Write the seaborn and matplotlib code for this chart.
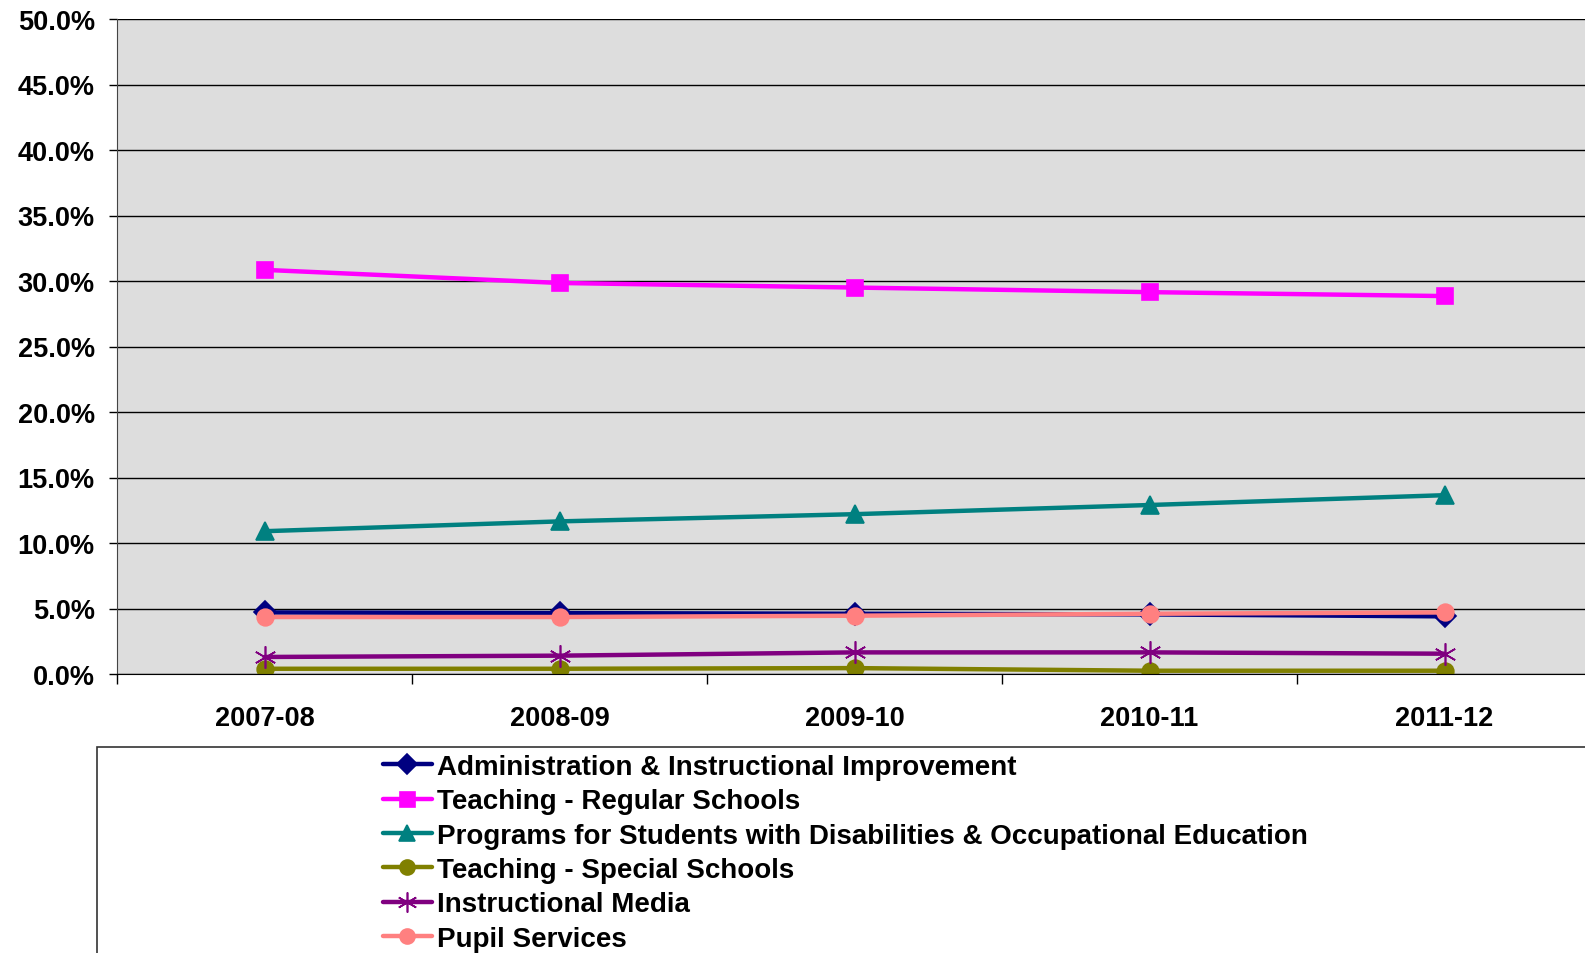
import matplotlib
matplotlib.use("Agg")
import matplotlib.pyplot as plt
from matplotlib.patches import Rectangle
from matplotlib.ticker import FuncFormatter, FixedLocator
import seaborn as sns
import pandas as pd

years = ["2007-08", "2008-09", "2009-10", "2010-11", "2011-12"]

admin = [4.7, 4.65, 4.6, 4.55, 4.4]
teaching_regular = [30.85, 29.85, 29.5, 29.15, 28.85]
programs_disab = [10.9, 11.65, 12.2, 12.9, 13.65]
teaching_special = [0.4, 0.4, 0.45, 0.25, 0.25]
instr_media = [1.3, 1.4, 1.65, 1.65, 1.55]
pupil_services = [4.35, 4.35, 4.45, 4.6, 4.7]

series_names = [
    "Administration & Instructional Improvement",
    "Teaching - Regular Schools",
    "Programs for Students with Disabilities & Occupational Education",
    "Teaching - Special Schools",
    "Instructional Media",
    "Pupil Services",
]
series_values = [admin, teaching_regular, programs_disab,
                 teaching_special, instr_media, pupil_services]
colors = ["#000080", "#FF00FF", "#008080", "#808000", "#800080", "#FF8080"]
marker_shapes = ["D", "s", "^", "o", (6, 2, 0), "o"]
marker_sizes = [11, 12, 13, 12, 16, 12]

rows = []
for name, vals in zip(series_names, series_values):
    for yr, v in zip(years, vals):
        rows.append({"year": yr, "value": v, "series": name})
df = pd.DataFrame(rows)

sns.set_style("white")
plt.rcParams["font.family"] = ["Liberation Sans", "DejaVu Sans"]
plt.rcParams["font.weight"] = "bold"
plt.rcParams["text.color"] = "black"
plt.rcParams["xtick.color"] = "black"
plt.rcParams["ytick.color"] = "black"

fig = plt.figure(figsize=(15.85, 9.54), dpi=100)
ax = fig.add_axes([117 / 1585, 1 - 675 / 954, (1592 - 117) / 1585, (675 - 20) / 954])
ax.set_facecolor("#DDDDDD")

sns.lineplot(
    data=df, x="year", y="value", hue="series", style="series",
    hue_order=series_names, style_order=series_names,
    palette=dict(zip(series_names, colors)),
    markers=dict(zip(series_names, ["D", "s", "^", "o", "o", "o"])),
    dashes=False, sort=False, linewidth=3.2, markeredgewidth=1.2,
    ax=ax, legend=True,
)

handles, labels = ax.get_legend_handles_labels()
ax.get_legend().remove()

# per-series marker shapes, sizes and edges
for line, shape, size, col in zip(ax.lines, marker_shapes, marker_sizes, colors):
    line.set_marker(shape)
    line.set_markersize(size)
    line.set_markeredgecolor(col)
    line.set_markerfacecolor(col)
    line.set_markeredgewidth(1.2)

ax.set_xlim(-0.5, 4.5)
ax.set_ylim(0, 50)
ax.yaxis.set_major_locator(FixedLocator([i * 5 for i in range(11)]))
ax.yaxis.set_major_formatter(FuncFormatter(lambda v, p: f"{v:.1f}%"))
ax.grid(axis="y", color="black", linewidth=1.0)
ax.set_axisbelow(True)

ax.set_xticks(range(len(years)))
ax.set_xticklabels(years)
ax.set_xticks([i - 0.5 for i in range(len(years) + 1)], minor=True)
ax.tick_params(axis="x", which="major", length=0, pad=22, labelsize=19.5, labelcolor="black")
ax.tick_params(axis="x", which="minor", length=7, width=1, color="black", direction="out", bottom=True)
ax.tick_params(axis="y", length=6, width=1, color="black", direction="out", left=True, pad=10,
               labelsize=19.5, labelcolor="black")
for lab in ax.get_xticklabels() + ax.get_yticklabels():
    lab.set_fontweight("bold")

for s in ["top", "right"]:
    ax.spines[s].set_visible(False)
ax.spines["left"].set_color("#444444")
ax.spines["bottom"].set_color("black")
ax.set_xlabel("")
ax.set_ylabel("")

# legend box
fig.patches.append(Rectangle((97 / 1585, -0.05), 1.1, (1 - 748 / 954) + 0.05,
                             transform=fig.transFigure, fill=False,
                             edgecolor="#333333", linewidth=1.2))

for h, shape, col, size in zip(handles, marker_shapes, colors, marker_sizes):
    h.set_marker(shape)
    h.set_markersize(size * 0.9)
    h.set_color(col)
    h.set_markerfacecolor(col)
    h.set_markeredgecolor(col)
    h.set_linewidth(3.2)

leg = fig.legend(handles, labels, loc="upper left",
                 bbox_to_anchor=(383 / 1585, 1 - 755 / 954),
                 frameon=False, fontsize=20, handlelength=1.75,
                 handletextpad=0.2, labelspacing=0.3, borderpad=0,
                 borderaxespad=0)
for t in leg.get_texts():
    t.set_fontweight("bold")
    t.set_color("black")

fig.savefig("out.png", dpi=100)
